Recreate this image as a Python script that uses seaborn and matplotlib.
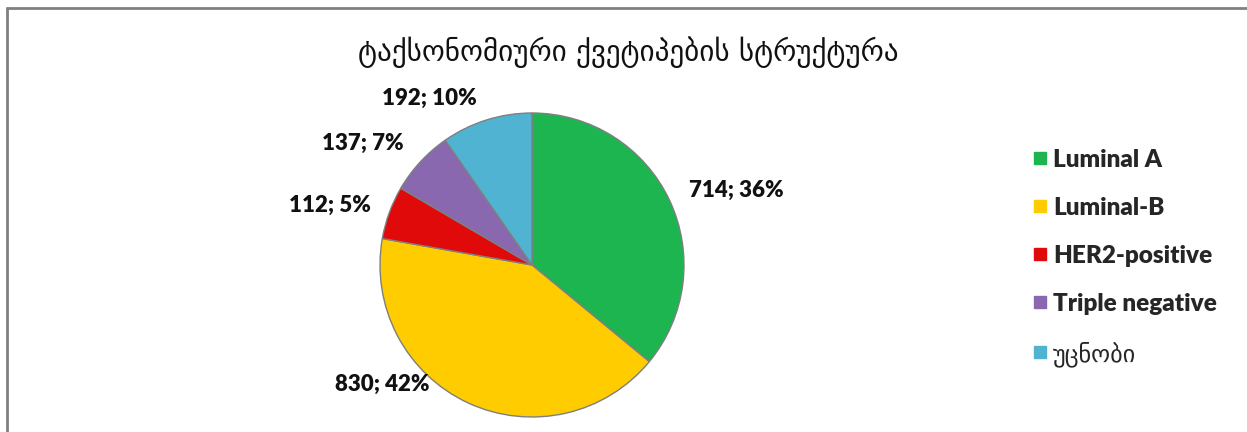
import matplotlib
matplotlib.use("Agg")
import matplotlib.pyplot as plt
import seaborn as sns
import numpy as np
from matplotlib.lines import Line2D

sns.set_theme(style="white")
plt.rcParams['font.family'] = ['Lato', 'DejaVu Sans']

# ---- data ----
categories = ["Luminal A", "Luminal-B", "HER2-positive", "Triple negative", "უცნობი"]
values = [714, 830, 112, 137, 192]
percent_labels = ["36%", "42%", "5%", "7%", "10%"]
title = "ტაქსონომიური ქვეტიპების სტრუქტურა"

colors = sns.color_palette(["#1DB550", "#FFCC00", "#E00A0A", "#8A68B0", "#4FB3D1"])
# label offsets relative to centre (in radius units)
label_pos = [(1.342, 0.493), (-0.987, -0.783), (-1.329, 0.395), (-1.112, 0.803), (-0.678, 1.099)]

W, H = 1247, 432
fig = plt.figure(figsize=(W / 100, H / 100), dpi=100)

cx, cy, r = 532, 265, 152
ax = fig.add_axes([(cx - r) / W, (H - cy - r) / H, 2 * r / W, 2 * r / H])
wedges, _ = ax.pie(values, colors=colors, startangle=90, counterclock=False,
                   radius=1.0,
                   wedgeprops=dict(edgecolor="#7f7f7f", linewidth=1.0))
ax.set_xlim(-1, 1)
ax.set_ylim(-1, 1)
ax.set_aspect("equal")
ax.axis("off")

for v, p, (dx, dy) in zip(values, percent_labels, label_pos):
    ax.text(dx, dy, f"{v}; {p}", ha="center", va="center", fontsize=16,
            fontweight="heavy", color="#111111", clip_on=False)

fig.text(628 / W, 1 - 52 / H, title, ha="center", va="center", fontsize=21,
         family=["DejaVu Sans"], color="#111111")

handles = [Line2D([0], [0], marker="s", linestyle="none", markersize=9,
                  markerfacecolor=c, markeredgecolor=c) for c in colors]
leg = fig.legend(handles, categories, loc="upper left",
                 bbox_to_anchor=(1013 / W, 1 - 127 / H), frameon=False,
                 handlelength=0.45, handletextpad=0.3, labelspacing=1.07,
                 prop=dict(size=17.5, weight="heavy", family=["Lato", "DejaVu Sans"]))
last = leg.get_texts()[-1]
last.set_fontweight("normal")
last.set_fontfamily("DejaVu Sans")

# outer frame
fig.add_artist(Line2D([7 / W, 7 / W], [0, 1 - 8 / H], transform=fig.transFigure,
                      color="#808080", linewidth=2))
fig.add_artist(Line2D([7 / W, 1], [1 - 8 / H, 1 - 8 / H], transform=fig.transFigure,
                      color="#808080", linewidth=2))

fig.savefig("out.png", dpi=100, facecolor="white")
